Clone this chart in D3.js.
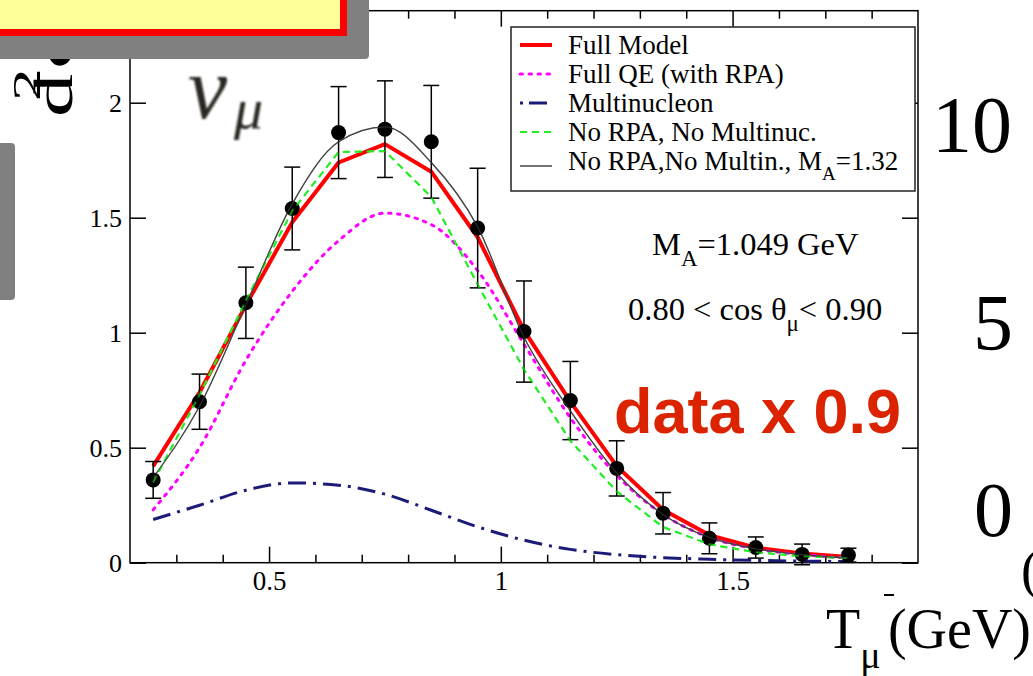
<!DOCTYPE html>
<html><head><meta charset="utf-8">
<script src="https://cdn.jsdelivr.net/npm/d3@7"></script>
<style>html,body{margin:0;padding:0;background:#fff;overflow:hidden}</style>
</head><body>
<svg id="c" width="1033" height="676"></svg>
<script>
// ---- data ----
const energies      = [0.25,0.35,0.45,0.55,0.65,0.75,0.85,0.95,1.05,1.15,1.25,1.35,1.45,1.55,1.65,1.75];
const dataValues    = [0.36,0.70,1.13,1.54,1.87,1.885,1.83,1.455,1.005,0.705,0.41,0.215,0.106,0.066,0.036,0.033];
const dataErrors    = [0.08,0.12,0.155,0.18,0.20,0.21,0.245,0.26,0.22,0.17,0.12,0.09,0.067,0.046,0.045,0.03];
const fullModel     = [0.42,0.74,1.12,1.48,1.74,1.82,1.70,1.415,1.01,0.70,0.42,0.23,0.12,0.065,0.04,0.025];
const fullQE        = [0.23,0.50,0.88,1.18,1.40,1.52,1.47,1.27,0.95,0.63,0.38,0.21,0.11,0.06,0.035,0.02];
const multinucleon  = [0.188,0.25,0.315,0.347,0.337,0.298,0.228,0.156,0.098,0.058,0.035,0.022,0.015,0.01,0.007,0.005];
const noRpaNoMulti  = [0.35,0.73,1.14,1.53,1.785,1.79,1.59,1.21,0.84,0.53,0.31,0.155,0.08,0.045,0.028,0.02];
const noRpaMA132    = [0.37,0.68,1.12,1.56,1.83,1.895,1.74,1.46,0.98,0.66,0.39,0.21,0.11,0.06,0.035,0.02];
const xMajorTicks   = [0.5,1,1.5];
const xMinorTicks   = [0.3,0.4,0.6,0.7,0.8,0.9,1.1,1.2,1.3,1.4,1.6,1.7,1.8];
const yTicks        = [0,0.5,1,1.5,2];
const xDomain       = [0.2,1.9];
const yDomain       = [0,2.4];
const legendLabels  = ["Full Model","Full QE (with RPA)","Multinucleon","No RPA, No Multinuc.","No RPA,No Multin., M|A|=1.32"];

// ---- setup ----
const svg = d3.select("#c");
const serif = "'Liberation Serif','Times New Roman',serif";
svg.append("rect").attr("width",1033).attr("height",676).attr("fill","#fff");

const x = d3.scaleLinear().domain(xDomain).range([130,918]);
const y = d3.scaleLinear().domain(yDomain).range([562.7,10.7]);

const series = [
  {vals: fullModel,    color:"#ff0000", width:4,   dash:null,        curve:d3.curveLinear},
  {vals: fullQE,       color:"#ff00ff", width:3,   dash:"2.5,6.5",   curve:d3.curveMonotoneX, cap:"round"},
  {vals: multinucleon, color:"#1c1c78", width:3,   dash:"18,7,3,7",  curve:d3.curveMonotoneX},
  {vals: noRpaNoMulti, color:"#22ee22", width:2,   dash:"7,5",       curve:d3.curveLinear},
  {vals: noRpaMA132,   color:"#444444", width:1.2, dash:null,        curve:d3.curveMonotoneX}
];

// ---- axes ----
const axG = svg.append("g");
function styleAxis(g){ g.attr("font-family",serif); g.select(".domain").remove(); g.selectAll("line").attr("stroke","#000").attr("stroke-width",1.5); }
axG.append("g").attr("transform",`translate(0,${y(0)})`)
  .call(d3.axisBottom(x).tickValues(xMajorTicks).tickSize(-16).tickPadding(8).tickFormat(d3.format("")))
  .call(styleAxis).call(g=>g.selectAll("text").attr("font-size",27).attr("fill","#000").attr("font-family",serif));
axG.append("g").attr("transform",`translate(0,${y(0)})`)
  .call(d3.axisBottom(x).tickValues(xMinorTicks).tickSize(-8).tickFormat(""))
  .call(styleAxis);
axG.append("g").attr("transform",`translate(0,${y(yDomain[1])})`)
  .call(d3.axisTop(x).tickValues(xMajorTicks).tickSize(-16).tickFormat(""))
  .call(styleAxis);
axG.append("g").attr("transform",`translate(0,${y(yDomain[1])})`)
  .call(d3.axisTop(x).tickValues(xMinorTicks).tickSize(-8).tickFormat(""))
  .call(styleAxis);
axG.append("g").attr("transform",`translate(${x(xDomain[0])},0)`)
  .call(d3.axisLeft(y).tickValues(yTicks).tickSize(-16).tickPadding(8).tickFormat(d3.format("")))
  .call(styleAxis).call(g=>g.selectAll("text").attr("font-size",26).attr("fill","#000").attr("font-family",serif));
axG.append("g").attr("transform",`translate(${x(xDomain[1])},0)`)
  .call(d3.axisRight(y).tickValues(yTicks).tickSize(-16).tickFormat(""))
  .call(styleAxis);
svg.append("rect").attr("x",x(xDomain[0])).attr("y",y(yDomain[1]))
  .attr("width",x(xDomain[1])-x(xDomain[0])).attr("height",y(0)-y(yDomain[1]))
  .attr("fill","none").attr("stroke","#000").attr("stroke-width",1.5);

// ---- curves ----
const plotG = svg.append("g");
series.forEach(s=>{
  const line = d3.line().x((d,i)=>x(energies[i])).y(d=>y(d)).curve(s.curve);
  plotG.append("path").datum(s.vals).attr("d",line).attr("fill","none")
    .attr("stroke",s.color).attr("stroke-width",s.width)
    .attr("stroke-dasharray",s.dash).attr("stroke-linecap",s.cap||"butt").attr("stroke-linejoin","round");
});
// error bars & points
const pts = energies.map((e,i)=>({e, v:dataValues[i], err:dataErrors[i]}));
const eg = plotG.append("g").attr("stroke","#000").attr("stroke-width",1.5);
eg.selectAll(".eb").data(pts).join("line").attr("x1",d=>x(d.e)).attr("x2",d=>x(d.e))
  .attr("y1",d=>y(d.v+d.err)).attr("y2",d=>y(d.v-d.err));
eg.selectAll(".ct").data(pts).join("line").attr("x1",d=>x(d.e)-8).attr("x2",d=>x(d.e)+8)
  .attr("y1",d=>y(d.v+d.err)).attr("y2",d=>y(d.v+d.err));
eg.selectAll(".cb").data(pts).join("line").attr("x1",d=>x(d.e)-8).attr("x2",d=>x(d.e)+8)
  .attr("y1",d=>y(d.v-d.err)).attr("y2",d=>y(d.v-d.err));
plotG.selectAll("circle").data(pts).join("circle").attr("cx",d=>x(d.e)).attr("cy",d=>y(d.v))
  .attr("r",7.5).attr("fill","#000");
// lines shown faintly over the dots, as in the original
series.slice(3).forEach(s=>{
  const line = d3.line().x((d,i)=>x(energies[i])).y(d=>y(d)).curve(s.curve);
  plotG.append("path").datum(s.vals).attr("d",line).attr("fill","none")
    .attr("stroke",s.color).attr("stroke-width",s.width).attr("stroke-dasharray",s.dash).attr("opacity",0.6);
});

// ---- legend ----
const lg = svg.append("g").attr("font-family",serif);
lg.append("rect").attr("x",511).attr("y",27).attr("width",404).attr("height",164)
  .attr("fill","#fff").attr("stroke","#222").attr("stroke-width",1.5);
legendLabels.forEach((lab,i)=>{
  const base = 54 + i*29;
  const ly = i===4 ? base-4 : base-9;
  const s = series[i];
  lg.append("line").attr("x1",520).attr("x2",552).attr("y1",ly).attr("y2",ly)
    .attr("stroke",s.color).attr("stroke-width",Math.max(s.width,1.5))
    .attr("stroke-dasharray", i===2 ? "3,6,18,7" : s.dash).attr("stroke-linecap",s.cap||"butt");
  const parts = lab.split("|");
  const t = lg.append("text").attr("x",568).attr("y",base).attr("font-size",27).attr("fill","#000");
  t.append("tspan").text(parts[0]);
  if(parts.length>1){
    t.append("tspan").attr("dy",10).attr("font-size",19).text(parts[1]);
    t.append("tspan").attr("dy",-10).text(parts[2]);
  }
});

// ---- annotations ----
const an = svg.append("g").attr("font-family",serif).attr("fill","#000");
const t1 = an.append("text").attr("x",652).attr("y",255).attr("font-size",32.5);
t1.append("tspan").text("M");
t1.append("tspan").attr("dy",11).attr("font-size",23).text("A");
t1.append("tspan").attr("dy",-11).text("=1.049 GeV");
const t2 = an.append("text").attr("x",628).attr("y",320).attr("font-size",32.5);
t2.append("tspan").text("0.80 < cos θ");
t2.append("tspan").attr("dy",11).attr("font-size",23).text("μ");
t2.append("tspan").attr("dy",-11).text("< 0.90");

svg.append("text").attr("x",614).attr("y",433).attr("font-family","'Liberation Sans',Arial,sans-serif")
  .attr("font-weight","bold").attr("font-size",63).attr("fill","#dc2300").text("data x 0.9");

// nu_mu (blurry)
const defs = svg.append("defs");
defs.append("filter").attr("id","blur").append("feGaussianBlur").attr("stdDeviation",0.9);
const nu = svg.append("text").attr("x",188).attr("y",118).attr("font-family",serif)
  .attr("font-style","italic").attr("font-size",88).attr("fill","#2b2620").attr("filter","url(#blur)");
nu.append("tspan").text("ν");
nu.append("tspan").attr("x",234).attr("y",128).attr("font-size",58).text("μ");

// y-axis label (rotated, partly hidden)
const yl = svg.append("g").attr("transform","translate(72,117) rotate(-90) scale(1.6,1)")
  .attr("font-family",serif).attr("fill","#000");
yl.append("text").attr("x",0).attr("y",0).attr("font-size",54).text("d");
yl.append("text").attr("x",30).attr("y",0).attr("font-size",54).text("σ");
yl.append("text").attr("x",10).attr("y",-32).attr("font-size",41).text("2");

// background slide text on the right
const bg = svg.append("g").attr("font-family",serif).attr("fill","#000");
bg.append("text").attr("x",1012).attr("y",152).attr("text-anchor","end").attr("font-size",80).text("10");
bg.append("text").attr("x",1013).attr("y",350).attr("text-anchor","end").attr("font-size",80).text("5");
bg.append("text").attr("x",1013).attr("y",536).attr("text-anchor","end").attr("font-size",78).text("0");
bg.append("text").attr("x",1021).attr("y",588).attr("font-size",54).text("(");
const tl = bg.append("text").attr("x",826).attr("y",648).attr("font-size",56);
tl.append("tspan").text("T");
tl.append("tspan").attr("dy",20).attr("font-size",38).text("μ");
bg.append("text").attr("x",1031).attr("y",648).attr("text-anchor","end").attr("font-size",56).text("(GeV)");
bg.append("line").attr("x1",884).attr("x2",894).attr("y1",595).attr("y2",595).attr("stroke","#000").attr("stroke-width",2);

// ---- overlay boxes (slide callouts) ----
svg.append("rect").attr("x",-10).attr("y",-10).attr("width",379).attr("height",69).attr("rx",4).attr("fill","#808080");
svg.append("rect").attr("x",-10).attr("y",-10).attr("width",357).attr("height",46).attr("fill","#ff0000");
svg.append("rect").attr("x",-10).attr("y",-10).attr("width",350).attr("height",39).attr("fill","#ffff99");
svg.append("rect").attr("x",-10).attr("y",143).attr("width",25).attr("height",157).attr("rx",4).attr("fill","#808080");
</script>
</body></html>
